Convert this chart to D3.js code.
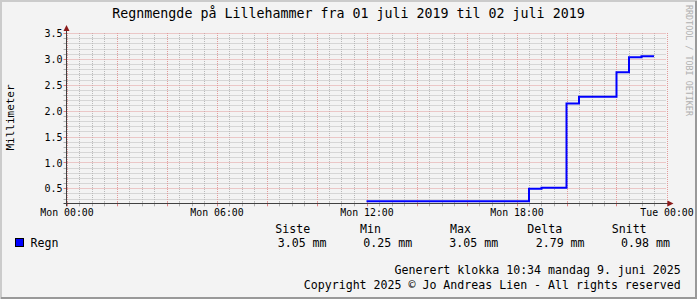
<!DOCTYPE html>
<html><head><meta charset="utf-8">
<script src="https://cdn.jsdelivr.net/npm/d3@7"></script>
<style>
html,body{margin:0;padding:0;background:#f3f3f3;}
text{font-family:"DejaVu Sans Mono",monospace;}
</style></head>
<body><svg id="c" width="697" height="299"></svg>
<script>
// ---- data ----
const titleText = "Regnmengde på Lillehammer fra 01 juli 2019 til 02 juli 2019";
const yLabel = "Millimeter";
const seriesName = "Regn";
const sampleTimes = ["2019-07-01 12:00","2019-07-01 12:30","2019-07-01 13:00","2019-07-01 13:30","2019-07-01 14:00","2019-07-01 14:30","2019-07-01 15:00","2019-07-01 15:30","2019-07-01 16:00","2019-07-01 16:30","2019-07-01 17:00","2019-07-01 17:30","2019-07-01 18:00","2019-07-01 18:30","2019-07-01 19:00","2019-07-01 19:30","2019-07-01 20:00","2019-07-01 20:30","2019-07-01 21:00","2019-07-01 21:30","2019-07-01 22:00","2019-07-01 22:30","2019-07-01 23:00","2019-07-01 23:30"];
const rainValues = [0.25,0.25,0.25,0.25,0.25,0.25,0.25,0.25,0.25,0.25,0.25,0.25,0.25,0.49,0.51,0.51,2.14,2.27,2.27,2.27,2.74,3.03,3.05,3.05];
const yTicks = [0.5,1.0,1.5,2.0,2.5,3.0,3.5];
const legendHeaders = ["Siste","Min","Max","Delta","Snitt"];
const legendValues = ["3.05 mm","0.25 mm","3.05 mm","2.79 mm","0.98 mm"];
const footer1 = "Generert klokka 10:34 mandag 9. juni 2025";
const footer2 = "Copyright 2025 © Jo Andreas Lien - All rights reserved";
const watermark = "RRDTOOL / TOBI OETIKER";
const domainStart = "2019-07-01 00:00", domainEnd = "2019-07-02 00:00";
const yMin = 0.21, yMax = 3.5;

// ---- layout ----
const W=697,H=299;
const L=66.5,R=666.5,T=33,B=203.3;
const parse = d3.timeParse("%Y-%m-%d %H:%M");
const svg = d3.select("#c");
const x = d3.scaleTime().domain([parse(domainStart),parse(domainEnd)]).range([L,R]);
const y = d3.scaleLinear().domain([yMin,yMax]).range([B,T]);
const mono = "'DejaVu Sans Mono',monospace";

// background & frame
svg.append("rect").attr("width",W).attr("height",H).attr("fill","#f3f3f3");
svg.append("path").attr("d",`M1,${H} V1 H${W}`).attr("stroke","#cbcbcb").attr("stroke-width",2).attr("fill","none");
svg.append("path").attr("d",`M${W-1},1 V${H-1} H1`).attr("stroke","#999999").attr("stroke-width",2).attr("fill","none");

const g = svg.append("g");
const minorX = d3.timeMinute.every(30).range(parse(domainStart), d3.timeMinute.offset(parse(domainEnd),1));
const majorX = d3.timeHour.every(2).range(parse(domainStart), d3.timeMinute.offset(parse(domainEnd),1));
const isMajorX = d => d.getHours()%2===0 && d.getMinutes()===0;
const minorCol = "#b9b9b9", majorCol = "#e39a9a";
g.selectAll(".vmin").data(minorX.filter(d=>!isMajorX(d))).enter().append("line")
  .attr("x1",d=>Math.round(x(d))+0.5).attr("x2",d=>Math.round(x(d))+0.5).attr("y1",T).attr("y2",B)
  .attr("stroke",minorCol).attr("stroke-dasharray","1,1");
const minorY = d3.range(3,36).map(v=>v/10).filter(v=>Math.round(v*10)%5!==0);
g.selectAll(".hmin").data(minorY).enter().append("line")
  .attr("x1",L).attr("x2",R).attr("y1",d=>Math.round(y(d))+0.5).attr("y2",d=>Math.round(y(d))+0.5)
  .attr("stroke",minorCol).attr("stroke-dasharray","1,1");
g.selectAll(".vmaj").data(majorX).enter().append("line")
  .attr("x1",d=>Math.round(x(d))+0.5).attr("x2",d=>Math.round(x(d))+0.5).attr("y1",T).attr("y2",B)
  .attr("stroke",majorCol).attr("stroke-dasharray","1,1");
g.selectAll(".hmaj").data(yTicks).enter().append("line")
  .attr("x1",L).attr("x2",R).attr("y1",d=>Math.round(y(d))+0.5).attr("y2",d=>Math.round(y(d))+0.5)
  .attr("stroke",majorCol).attr("stroke-dasharray","1,1");

g.selectAll(".xt").data(minorX).enter().append("line")
  .attr("x1",d=>Math.round(x(d))+0.5).attr("x2",d=>Math.round(x(d))+0.5)
  .attr("y1",B-1).attr("y2",B+3)
  .attr("stroke",d=>isMajorX(d)?"#e08080":"#b0b0b0");
g.selectAll(".yt").data(minorY.concat(yTicks)).enter().append("line")
  .attr("x1",L-3).attr("x2",L+1).attr("y1",d=>Math.round(y(d))+0.5).attr("y2",d=>Math.round(y(d))+0.5)
  .attr("stroke",d=>yTicks.includes(d)?"#e08080":"#b0b0b0");

// data line
const data = sampleTimes.map((t,i)=>({t:parse(t),v:rainValues[i]}));
g.append("path").datum(data)
  .attr("d",d3.line().x(d=>x(d.t)).y(d=>y(d.v)).curve(d3.curveStepAfter))
  .attr("fill","none").attr("stroke","#0000ff").attr("stroke-width",2);

// axes lines
const ax = Math.round(B)+0.5;
g.append("line").attr("x1",L-3).attr("x2",R+3).attr("y1",ax).attr("y2",ax).attr("stroke","#404040");
g.append("line").attr("x1",L).attr("x2",L).attr("y1",B+3).attr("y2",T-4).attr("stroke","#404040");
g.append("path").attr("d",`M${R+1},${ax-3} L${R+7},${ax} L${R+1},${ax+3}Z`).attr("fill","#8b1a1a");
g.append("path").attr("d",`M${L-3},${T-2} L${L},${T-8} L${L+3},${T-2}Z`).attr("fill","#8b1a1a");

// axis labels via d3 axes
const xAxis = d3.axisBottom(x).tickValues(d3.timeHour.every(6).range(parse(domainStart), d3.timeMinute.offset(parse(domainEnd),1)))
  .tickFormat(d3.timeFormat("%a %H:%M")).tickSize(0).tickPadding(0);
const xa = svg.append("g").attr("transform",`translate(0,${B})`).call(xAxis);
xa.select(".domain").remove();
xa.selectAll("text").attr("font-family",mono).attr("font-size","9.9px").attr("fill","#000").attr("dy",null).attr("y",12.4);

const yAxis = d3.axisLeft(y).tickValues(yTicks).tickFormat(d3.format(".1f")).tickSize(0).tickPadding(0);
const ya = svg.append("g").attr("transform",`translate(${L-4},0)`).call(yAxis);
ya.select(".domain").remove();
ya.selectAll("text").attr("font-family",mono).attr("font-size","10px").attr("fill","#000").attr("dy","0.36em");

// title
svg.append("text").attr("x",348.5).attr("y",18.3).attr("text-anchor","middle")
  .attr("font-size","13.3px").attr("fill","#000").text(titleText);
// y label
svg.append("text").attr("transform","translate(14,117.5) rotate(-90)").attr("text-anchor","middle")
  .attr("font-size","11px").attr("fill","#000").text(yLabel);
// watermark
svg.append("text").attr("transform","translate(685.5,5) rotate(90)").attr("text-anchor","start")
  .attr("font-size","8.4px").attr("fill","#b0b0b0").text(watermark);

// legend
svg.append("rect").attr("x",15.5).attr("y",238.5).attr("width",8).attr("height",8)
  .attr("fill","#0000ff").attr("stroke","#000");
svg.append("text").attr("x",30.5).attr("y",246.6).attr("font-size","11.6px").text(seriesName);
const hdrX=[275.3,360,450,527.3,611.7];
const valX=[277.7,363.3,449.3,535.7,621];
svg.selectAll(".lh").data(legendHeaders).enter().append("text")
  .attr("x",(d,i)=>hdrX[i]).attr("y",232.6).attr("font-size","11.6px").text(d=>d);
svg.selectAll(".lv").data(legendValues).enter().append("text")
  .attr("x",(d,i)=>valX[i]).attr("y",246.6).attr("font-size","11.6px").text(d=>d);
svg.append("text").attr("x",680.7).attr("y",274).attr("text-anchor","end").attr("font-size","11.6px").text(footer1);
svg.append("text").attr("x",680.7).attr("y",288.6).attr("text-anchor","end").attr("font-size","11.6px").text(footer2);
</script></body></html>
